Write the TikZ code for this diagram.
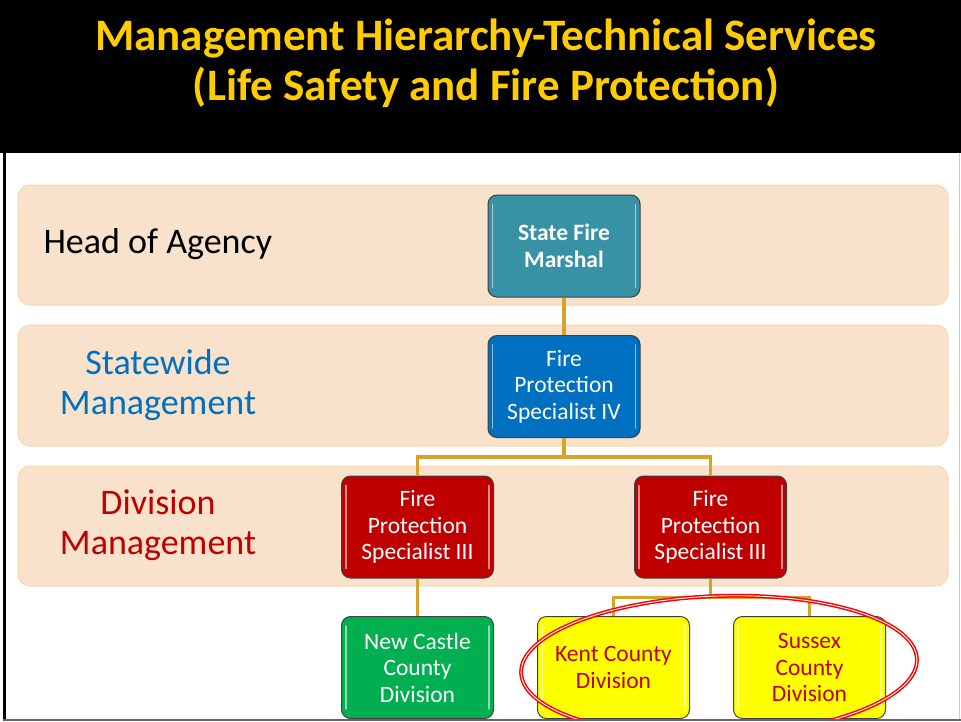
\documentclass[tikz,border=0pt]{standalone}
\usepackage{fontspec}
\setmainfont{Carlito}
\usetikzlibrary{calc}
\definecolor{titleyellow}{RGB}{255,204,0}
\definecolor{peach}{RGB}{249,226,203}
\definecolor{peachedge}{RGB}{245,216,178}
\definecolor{teal}{RGB}{56,146,166}
\definecolor{fpblue}{RGB}{0,112,192}
\definecolor{fpred}{RGB}{192,0,0}
\definecolor{fpgreen}{RGB}{0,176,80}
\definecolor{fpyellow}{RGB}{255,255,0}
\definecolor{gold}{RGB}{214,163,40}
\definecolor{boxedge}{RGB}{64,64,64}
\tikzset{
  band/.style={fill=peach, draw=peachedge, line width=1pt, rounded corners=12pt},
  orgbox/.style={draw=boxedge, line width=1pt, rounded corners=9pt,
    minimum width=152pt, minimum height=102pt, align=center,
    font=\fontsize{23.5}{26.5}\selectfont, inner sep=0pt},
  conn/.style={draw=gold, line width=3.5pt},
  hl/.style={draw=white, line width=1.6pt, opacity=0.55, line cap=round},
  lbl/.style={align=center, font=\fontsize{36}{40}\selectfont}
}
\begin{document}
\begin{tikzpicture}[x=1pt,y=-1pt]
\useasboundingbox (0,0) rectangle (961,721);
\fill[white] (0,0) rectangle (961,721);
% title band
\fill[black] (0,0) rectangle (961,153);
\node[text=titleyellow, align=center, font=\fontsize{45}{50}\selectfont\bfseries] (title) at (486,63)
  {Management Hierarchy-Technical Services\\(Life Safety and Fire Protection)};
% bands
\draw[band] (18,185) rectangle (948,305);
\draw[band] (18,325) rectangle (948,446);
\draw[band] (18,466) rectangle (948,586);
% left labels
\node[lbl, anchor=west] (hoa) at (40,244) {Head of Agency};
\node[lbl, text=fpblue] (sw) at (158,385) {Statewide\\Management};
\node[lbl, text=fpred] (dm) at (158,525) {Division\\Management};
% boxes
\node[orgbox, fill=teal, text=white, font=\fontsize{23.5}{26.5}\selectfont\bfseries] (sfm) at (564,246) {State Fire\\Marshal};
\node[orgbox, fill=fpblue, text=white] (fp4) at (564,386.5) {Fire\\Protection\\Specialist IV};
\node[orgbox, fill=fpred, text=white] (fp3a) at (417.5,527) {Fire\\Protection\\Specialist III};
\node[orgbox, fill=fpred, text=white] (fp3b) at (710.5,527) {Fire\\Protection\\Specialist III};
\node[orgbox, fill=fpgreen, text=white] (nc) at (417.5,667.5) {New Castle\\County\\Division};
\node[orgbox, fill=fpyellow, text=fpred] (kent) at (613.5,667.5) {Kent County\\Division};
\node[orgbox, fill=fpyellow, text=fpred] (sus) at (809.5,667.5) {Sussex\\County\\Division};
% glossy highlights
\foreach \n in {sfm,fp4,fp3a,fp3b,nc,kent,sus}{
  \draw[hl] ([shift={(5,10)}]\n.north west) -- ([shift={(5,-10)}]\n.south west);
  \draw[hl] ([shift={(-5,10)}]\n.north east) -- ([shift={(-5,-10)}]\n.south east);
}
% connectors
\draw[conn] (sfm.south) -- (fp4.north);
\draw[conn] (fp4.south) -- ++(0,19) coordinate (j1);
\draw[conn] (j1) -| (fp3a.north);
\draw[conn] (j1) -| (fp3b.north);
\draw[conn] (fp3a.south) -- (nc.north);
\draw[conn] (fp3b.south) -- ++(0,19) coordinate (j2);
\draw[conn] (j2) -| (kent.north);
\draw[conn] (j2) -| (sus.north);
% red ellipse
\begin{scope}
\clip (0,0) rectangle (961,719);
\draw[red, line width=1.5pt, double=white, double distance=0.9pt, rotate around={2:(719,666)}]
  (719,666) ellipse [x radius=198, y radius=70];
\end{scope}
% slide border
\draw[black, line width=3pt] (4,153) -- (4,719);
\draw[gray!80!black, line width=2pt] (3,719.5) -- (961,719.5);
\draw[gray!40, line width=1pt] (959.5,153) -- (959.5,719);
\end{tikzpicture}
\end{document}
